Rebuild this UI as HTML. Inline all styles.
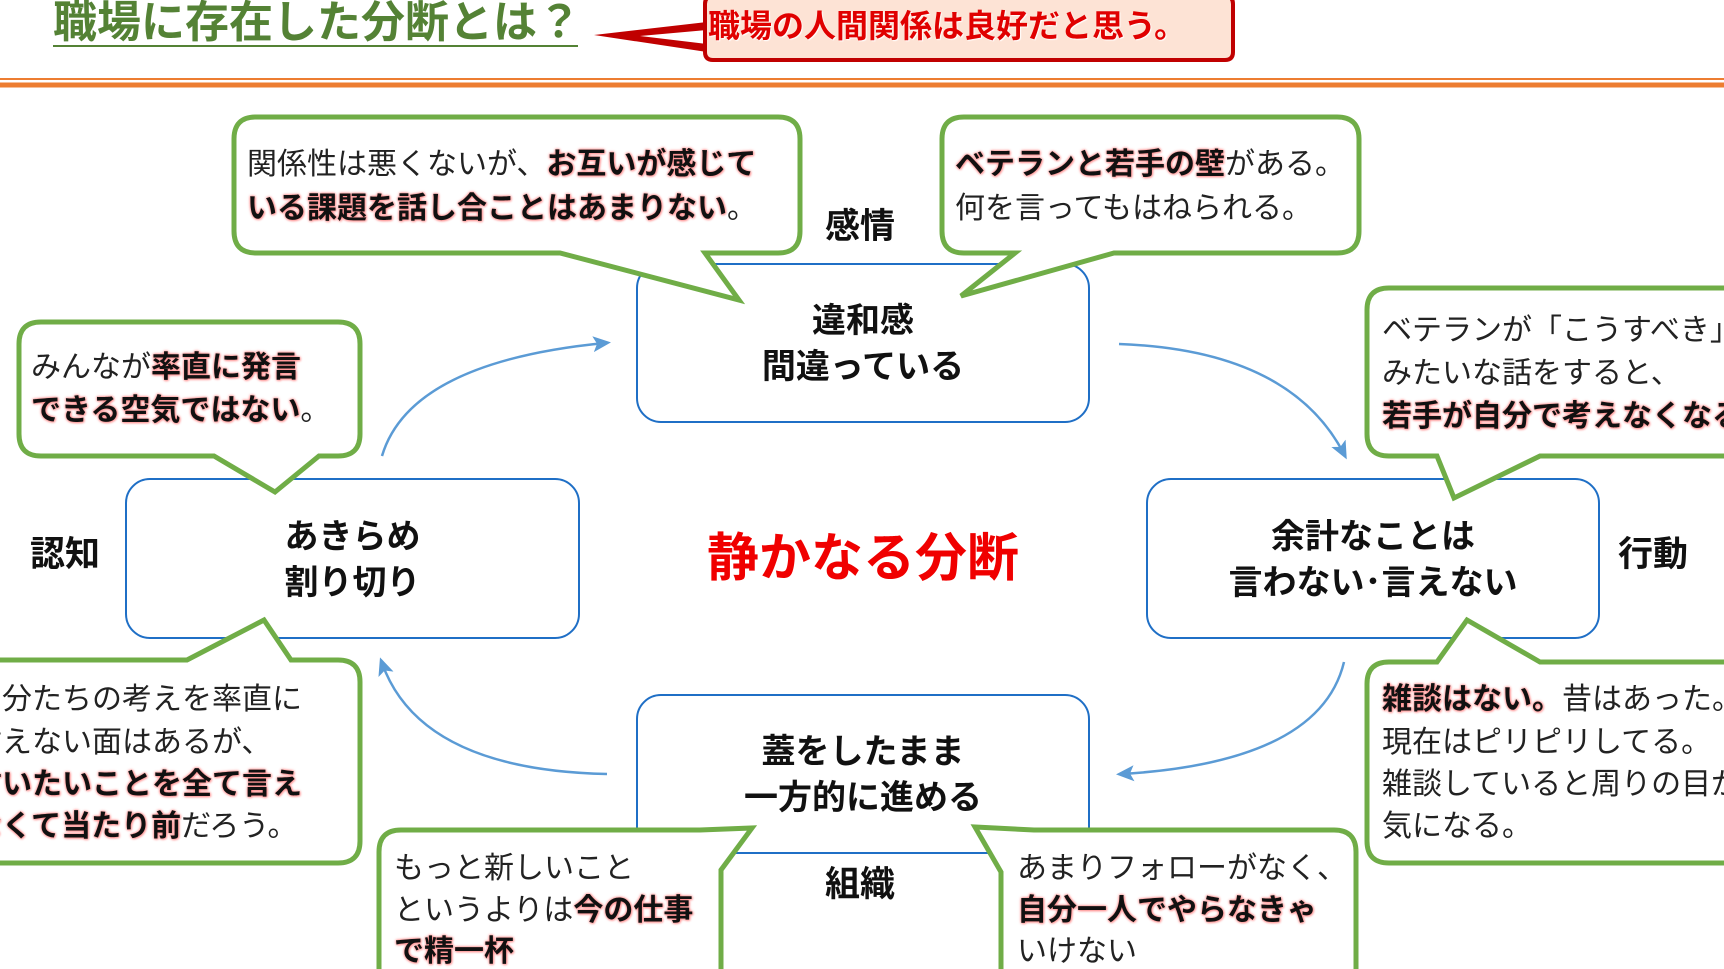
<!DOCTYPE html>
<html><head><meta charset="utf-8">
<style>
html,body{margin:0;padding:0;background:#fff;}
body{width:1724px;height:969px;position:relative;overflow:hidden;font-family:"Liberation Sans","Noto Sans CJK JP",sans-serif;}
.t{position:absolute;white-space:nowrap;line-height:1;}
.c{font-size:30px;color:#222;}
.b{font-weight:bold;color:#111;text-shadow:0 0 3px #ff8a8a,0 0 2px #ff9a9a,1px 1px 2px #ffb0b0;}
.box{font-size:34px;font-weight:bold;color:#111;text-align:center;line-height:46px;}
.lab{font-size:35px;font-weight:bold;color:#111;}
</style></head><body>
<svg width="1724" height="969" style="position:absolute;left:0;top:0">
<defs>
<marker id="ah" markerWidth="18" markerHeight="18" refX="12" refY="9" orient="auto" markerUnits="userSpaceOnUse" viewBox="0 0 18 18">
<path d="M0,1 L18,9 L0,17 L4,9 Z" fill="#5b9bd5"/></marker>
</defs>
<!-- header -->
<line x1="53" y1="46" x2="578" y2="46" stroke="#548235" stroke-width="2"/>
<path d="M705,4 Q705,-4 713,-4 H1225 Q1233,-4 1233,4 V52 Q1233,60 1225,60 H713 Q705,60 705,52 Z" fill="#fde3d5" stroke="#c00000" stroke-width="4"/>
<path d="M707,22 L594,35 L707,52 L707,44 L640,36 L707,30 Z" fill="#c00000"/>
<line x1="0" y1="79" x2="1724" y2="79" stroke="#ed7d31" stroke-width="2"/>
<line x1="0" y1="85" x2="1724" y2="85" stroke="#ed7d31" stroke-width="5"/>
<!-- boxes -->
<g fill="#fff" stroke="#1f6fc6" stroke-width="2">
<rect x="637" y="264" width="452" height="158" rx="24"/>
<rect x="126" y="479" width="453" height="159" rx="24"/>
<rect x="1147" y="479" width="452" height="159" rx="24"/>
<rect x="637" y="695" width="452" height="158" rx="24"/>
</g>
<!-- arrows -->
<g fill="none" stroke="#5b9bd5" stroke-width="2.5">
<path d="M382,456 Q410,362 605,343" marker-end="url(#ah)"/>
<path d="M1119,344 Q1290,350 1344,454" marker-end="url(#ah)"/>
<path d="M1344,662 Q1320,762 1122,774" marker-end="url(#ah)"/>
<path d="M607,774 Q420,770 382,663" marker-end="url(#ah)"/>
</g>
<!-- callouts -->
<g fill="#fff" stroke="#70ad47" stroke-width="5" stroke-linejoin="miter">
<path d="M256,117 H778 Q800,117 800,139 V231 Q800,253 778,253 H705 L739,300 L560,253 H256 Q234,253 234,231 V139 Q234,117 256,117 Z"/>
<path d="M964,117 H1337 Q1359,117 1359,139 V231 Q1359,253 1337,253 H1114 L961,296 L1015,253 H964 Q942,253 942,231 V139 Q942,117 964,117 Z"/>
<path d="M1389,288 H1760 V456 H1540 L1454,498 L1437,456 H1389 Q1367,456 1367,434 V310 Q1367,288 1389,288 Z"/>
<path d="M41,322 H338 Q360,322 360,344 V434 Q360,456 338,456 H319 L275,492 L214,456 H41 Q19,456 19,434 V344 Q19,322 41,322 Z"/>
<path d="M-20,660 H187 L264,620 L291,660 H338 Q360,660 360,682 V841 Q360,863 338,863 H-20 Z"/>
<path d="M1389,662 H1437 L1467,620 L1540,662 H1760 V863 H1389 Q1367,863 1367,841 V684 Q1367,662 1389,662 Z"/>
<path d="M401,830 H700 L752,828 L721,870 V1000 H379 V852 Q379,830 401,830 Z"/>
<path d="M1034,830 H1334 Q1356,830 1356,852 V1000 H1001 V872 L975,827 Z"/>
</g>
</svg>
<!-- header text -->
<div class="t" style="left:53px;top:1px;font-size:44px;font-weight:bold;color:#548235;">職場に存在した分断とは？</div>
<div class="t" style="left:708px;top:10px;font-size:32px;font-weight:bold;color:#e00000;text-shadow:1px 1px 1px #fff;">職場の人間関係は良好だと思う。</div>
<!-- box text -->
<div class="t box" style="left:637px;top:298px;width:452px;">違和感<br>間違っている</div>
<div class="t box" style="left:126px;top:514px;width:453px;">あきらめ<br>割り切り</div>
<div class="t box" style="left:1147px;top:514px;width:452px;">余計なことは<br>言わない･言えない</div>
<div class="t box" style="left:637px;top:729px;width:452px;">蓋をしたまま<br>一方的に進める</div>
<div class="t" style="left:637px;top:533px;width:452px;text-align:center;font-size:52px;font-weight:bold;color:#f00000;">静かなる分断</div>
<div class="t lab" style="left:825px;top:209px;">感情</div>
<div class="t lab" style="left:30px;top:537px;">認知</div>
<div class="t lab" style="left:1618px;top:537px;">行動</div>
<div class="t lab" style="left:825px;top:867px;">組織</div>
<!-- callout text -->
<div class="t c" style="left:247px;top:150px;">関係性は悪くないが、<span class="b">お互いが感じて</span></div>
<div class="t c" style="left:247px;top:194px;"><span class="b">いる課題を話し合ことはあまりない</span>。</div>
<div class="t c" style="left:955px;top:150px;"><span class="b">ベテランと若手の壁</span>がある。</div>
<div class="t c" style="left:955px;top:194px;">何を言ってもはねられる。</div>
<div class="t c" style="left:1382px;top:316px;">ベテランが「こうすべき」</div>
<div class="t c" style="left:1382px;top:359px;">みたいな話をすると、</div>
<div class="t c" style="left:1382px;top:402px;"><span class="b">若手が自分で考えなくなる</span></div>
<div class="t c" style="left:31px;top:353px;">みんなが<span class="b">率直に発言</span></div>
<div class="t c" style="left:31px;top:396px;"><span class="b">できる空気ではない</span>。</div>
<div class="t c" style="left:-28px;top:685px;">自分たちの考えを率直に</div>
<div class="t c" style="left:-28px;top:728px;">言えない面はあるが、</div>
<div class="t c" style="left:-28px;top:770px;"><span class="b">言いたいことを全て言え</span></div>
<div class="t c" style="left:-28px;top:812px;"><span class="b">なくて当たり前</span>だろう。</div>
<div class="t c" style="left:1382px;top:685px;"><span class="b">雑談はない。</span>昔はあった。</div>
<div class="t c" style="left:1382px;top:728px;">現在はピリピリしてる。</div>
<div class="t c" style="left:1382px;top:770px;">雑談していると周りの目が</div>
<div class="t c" style="left:1382px;top:812px;">気になる。</div>
<div class="t c" style="left:394px;top:854px;">もっと新しいこと</div>
<div class="t c" style="left:394px;top:896px;">というよりは<span class="b">今の仕事</span></div>
<div class="t c" style="left:394px;top:937px;"><span class="b">で精一杯</span></div>
<div class="t c" style="left:1017px;top:854px;">あまりフォローがなく、</div>
<div class="t c" style="left:1017px;top:896px;"><span class="b">自分一人でやらなきゃ</span></div>
<div class="t c" style="left:1017px;top:937px;">いけない</div>
</body></html>
